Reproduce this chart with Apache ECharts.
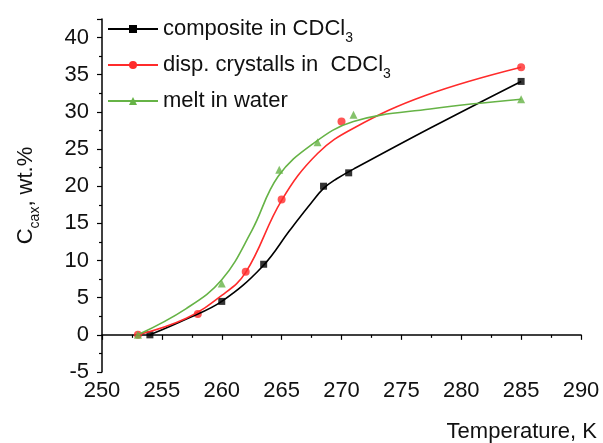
<!DOCTYPE html>
<html lang="en">
<head>
    <meta charset="UTF-8">
    <script src="https://cdn.jsdelivr.net/npm/echarts@6/dist/echarts.min.js"></script>
    <title>Solubility vs temperature</title>
    <style>
        html, body { margin: 0; padding: 0; background: #fff; }
    </style>
</head>
<body>
<div id="main" style="width: 603px;height:443px;"></div>
<script type="text/javascript">
    // measured points [T, C]
    var compositePts = [[254, 0], [260, 4.5], [263.5, 9.5], [268.5, 20], [270.6, 21.8], [285, 34.1]];
    var crystallPts = [[253, 0], [258, 2.8], [262, 8.5], [265, 18.2], [270, 28.7], [285, 36]];
    var meltPts = [[253, 0], [260, 6.9], [264.8, 22.2], [268, 25.9], [271, 29.6], [285, 31.7]];

    // fitted curves
    var compositeFit = [[254, 0], [257, 2.1], [260, 4.5], [263.4, 9.2], [265.7, 14.1], [267.3, 17.4],
        [268.5, 19.7], [269.6, 21.0], [271, 22.3], [277.5, 27.9], [285, 34.1]];
    var crystallFit = [[253, 0], [257, 2.2], [260, 5.3], [262, 8.4], [265, 18.1],
        [268, 24.4], [271, 27.8], [277, 32.2], [285, 36.0]];
    var meltFit = [[253, 0], [257, 3.5], [260, 7.4], [262.5, 14.0], [264.7, 21.3],
        [267.6, 25.7], [271, 28.7], [277.4, 30.4], [285, 31.7]];

    var names = ['composite in CDCl3', 'disp. crystalls in  CDCl3', 'melt in water'];

    var font = 'Liberation Sans, Arial, sans-serif';
    var rich = {
        a: {fontSize: 22, fontFamily: font, color: '#111', lineHeight: 24},
        s: {fontSize: 14, fontFamily: font, color: '#111', lineHeight: 24, verticalAlign: 'bottom', padding: [0, 0, -4, 0]}
    };

    var myChart = echarts.init(document.getElementById('main'));

    var option = {
        animation: false,
        backgroundColor: '#fff',
        grid: {
            left: 102,
            right: 22,
            top: 19,
            bottom: 71,
            containLabel: false,
            outerBoundsMode: 'none'
        },
        // x axis title sits under the tick labels, right aligned
        graphic: [{
            type: 'text',
            right: 6,
            top: 421,
            style: {text: 'Temperature, K', fontSize: 22, fontFamily: font, fill: '#111'}
        }],
        legend: {
            data: names,
            orient: 'vertical',
            left: 107,
            top: 18,
            padding: 0,
            itemWidth: 50,
            itemHeight: 10,
            itemGap: 9,
            textStyle: {rich: rich},
            formatter: function (name) {
                if (name === names[2]) {
                    return '{a|' + name + '}';
                }
                return '{a|' + name.slice(0, -1) + '}{s|3}';
            }
        },
        xAxis: {
            type: 'value',
            min: 250,
            max: 290,
            interval: 5,
            axisLine: {lineStyle: {color: '#000', width: 1.5}},
            axisTick: {inside: false, length: 5, lineStyle: {color: '#000', width: 1.2}},
            minorTick: {show: true, splitNumber: 2, length: 3, lineStyle: {color: '#000', width: 1.2}},
            axisLabel: {fontSize: 22, fontFamily: font, color: '#111', margin: 8},
            splitLine: {show: false}
        },
        yAxis: {
            type: 'value',
            min: -5,
            max: 42.5,
            interval: 5,
            name: '{a|C}{s|cax}{a|, wt.%}',
            nameLocation: 'middle',
            nameGap: 64,
            nameTextStyle: {rich: rich},
            axisLine: {lineStyle: {color: '#000', width: 1.5}},
            axisTick: {inside: false, length: 5, lineStyle: {color: '#000', width: 1.2}},
            minorTick: {show: true, splitNumber: 2, length: 3, lineStyle: {color: '#000', width: 1.2}},
            axisLabel: {
                fontSize: 22, fontFamily: font, color: '#111', margin: 13,
                formatter: function (v) {
                    return v % 5 === 0 ? String(v) : '';
                }
            },
            splitLine: {show: false}
        },
        series: [
            {
                name: names[0], type: 'line', data: compositeFit, smooth: 0.4,
                symbol: 'rect', symbolSize: 7, showSymbol: false,
                itemStyle: {color: '#000'}, lineStyle: {color: '#000', width: 1.6}
            },
            {
                name: names[1], type: 'line', data: crystallFit, smooth: 0.4,
                symbol: 'circle', symbolSize: 8, showSymbol: false,
                itemStyle: {color: '#ff2b2b'}, lineStyle: {color: '#ff2b2b', width: 1.6}
            },
            {
                name: names[2], type: 'line', data: meltFit, smooth: 0.4,
                symbol: 'triangle', symbolSize: 8, showSymbol: false,
                itemStyle: {color: '#66b346'}, lineStyle: {color: '#66b346', width: 1.6}
            },
            {
                name: 'pts0', type: 'scatter', data: compositePts, symbol: 'rect', symbolSize: 7,
                itemStyle: {color: '#000'}
            },
            {
                name: 'pts1', type: 'scatter', data: crystallPts, symbol: 'circle', symbolSize: 8,
                itemStyle: {color: '#ff2b2b'}
            },
            {
                name: 'pts2', type: 'scatter', data: meltPts, symbol: 'triangle', symbolSize: 8,
                itemStyle: {color: '#66b346'}
            }
        ]
    };

    myChart.setOption(option);
</script>
</body>
</html>
